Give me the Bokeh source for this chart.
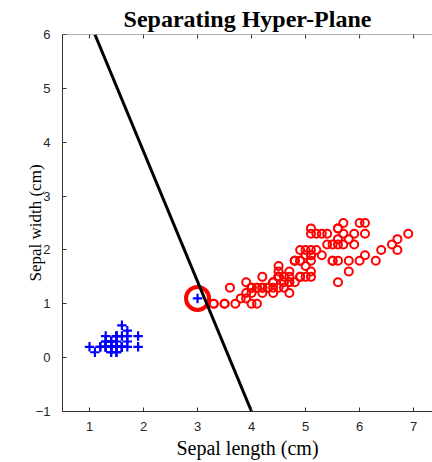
import math
from bokeh.plotting import figure
from bokeh.models import FixedTicker, Range1d, Span
from bokeh.embed import file_html
from bokeh.resources import INLINE

# Class 1 (blue +): petal length / width
setosa_len = [1.4, 1.4, 1.3, 1.5, 1.4, 1.7, 1.4, 1.5, 1.4, 1.5, 1.5, 1.6, 1.4, 1.1, 1.2,
              1.5, 1.3, 1.4, 1.7, 1.5, 1.7, 1.5, 1.0, 1.7, 1.9, 1.6, 1.6, 1.5, 1.4, 1.6,
              1.6, 1.5, 1.5, 1.4, 1.5, 1.2, 1.3, 1.4, 1.3, 1.5, 1.3, 1.3, 1.3, 1.6, 1.9,
              1.4, 1.6, 1.4, 1.5, 1.4]
setosa_wid = [0.2, 0.2, 0.2, 0.2, 0.2, 0.4, 0.3, 0.2, 0.2, 0.1, 0.2, 0.2, 0.1, 0.1, 0.2,
              0.4, 0.4, 0.3, 0.3, 0.3, 0.2, 0.4, 0.2, 0.5, 0.2, 0.2, 0.4, 0.2, 0.2, 0.2,
              0.2, 0.4, 0.1, 0.2, 0.2, 0.2, 0.2, 0.1, 0.2, 0.2, 0.3, 0.3, 0.2, 0.6, 0.4,
              0.3, 0.2, 0.2, 0.2, 0.2]

# Class 2 (red o): versicolor + virginica petal length / width
other_len = [4.7, 4.5, 4.9, 4.0, 4.6, 4.5, 4.7, 3.3, 4.6, 3.9, 3.5, 4.2, 4.0, 4.7, 3.6,
             4.4, 4.5, 4.1, 4.5, 3.9, 4.8, 4.0, 4.9, 4.7, 4.3, 4.4, 4.8, 5.0, 4.5, 3.5,
             3.8, 3.7, 3.9, 5.1, 4.5, 4.5, 4.7, 4.4, 4.1, 4.0, 4.4, 4.6, 4.0, 3.3, 4.2,
             4.2, 4.2, 4.3, 4.1,
             6.0, 5.1, 5.9, 5.6, 5.8, 6.6, 4.5, 6.3, 5.8, 6.1, 5.1, 5.3, 5.5, 5.0, 5.1,
             5.3, 5.5, 6.7, 6.9, 5.0, 5.7, 4.9, 6.7, 4.9, 5.7, 6.0, 4.8, 4.9, 5.6, 5.8,
             6.1, 6.4, 5.6, 5.1, 5.6, 6.1, 5.6, 5.5, 4.8, 5.4, 5.6, 5.1, 5.1, 5.9, 5.7,
             5.2, 5.0, 5.2, 5.4, 5.1]
other_wid = [1.4, 1.5, 1.5, 1.3, 1.5, 1.3, 1.6, 1.0, 1.3, 1.4, 1.0, 1.5, 1.0, 1.4, 1.3,
             1.4, 1.5, 1.0, 1.5, 1.1, 1.8, 1.3, 1.5, 1.2, 1.3, 1.4, 1.4, 1.7, 1.5, 1.0,
             1.1, 1.0, 1.2, 1.6, 1.5, 1.6, 1.5, 1.3, 1.3, 1.3, 1.2, 1.4, 1.2, 1.0, 1.3,
             1.2, 1.3, 1.3, 1.3,
             2.5, 1.9, 2.1, 1.8, 2.2, 2.1, 1.7, 1.8, 1.8, 2.5, 2.0, 1.9, 2.1, 2.0, 2.4,
             2.3, 1.8, 2.2, 2.3, 1.5, 2.3, 2.0, 2.0, 1.8, 2.1, 1.8, 1.8, 1.8, 2.1, 1.6,
             1.9, 2.0, 2.2, 1.5, 1.4, 2.3, 2.4, 1.8, 1.8, 2.1, 2.4, 2.3, 1.9, 2.3, 2.5,
             2.3, 1.9, 2.0, 2.3, 1.8]

# Highlighted support vector
sv_len = [3.0]
sv_wid = [1.1]

# Separating hyper-plane end points
plane_x = [1.1, 4.0]
plane_y = [6.0, -1.0]

x_ticks = [1, 2, 3, 4, 5, 6, 7]
y_ticks = [-1, 0, 1, 2, 3, 4, 5, 6]

axis_col = "#333333"
y_top = y_ticks[-1]

p = figure(width=432, height=462, output_backend="svg", toolbar_location=None,
           x_range=Range1d(0.5, 7.35), y_range=Range1d(y_ticks[0], y_top),
           min_border_left=62, min_border_right=0, min_border_top=34, min_border_bottom=51,
           x_axis_label="Sepal length (cm)", y_axis_label="Sepal width (cm)")
p.outline_line_color = None
p.xgrid.visible = False
p.ygrid.visible = False

p.title.text = "Separating Hyper-Plane"
p.title.text_font = "Liberation Serif"
p.title.text_font_size = "24px"
p.title.text_font_style = "bold"
p.title.text_color = "black"
p.title.align = "center"
p.title.offset = 4
p.title.standoff = 5

for ax in (p.xaxis[0], p.yaxis[0]):
    ax.major_tick_in = 4
    ax.major_tick_out = 0
    ax.minor_tick_line_color = None
    ax.axis_line_color = axis_col
    ax.major_tick_line_color = axis_col
    ax.major_label_text_font = "Liberation Sans"
    ax.major_label_text_font_size = "13px"
    ax.major_label_text_color = "#262626"
    ax.axis_label_text_font = "Liberation Serif"
    ax.axis_label_text_font_style = "normal"
    ax.axis_label_text_color = "black"

p.xaxis.ticker = FixedTicker(ticks=x_ticks)
p.yaxis.ticker = FixedTicker(ticks=y_ticks)
p.xaxis.axis_label_text_font_size = "20px"
p.yaxis.axis_label_text_font_size = "17px"
p.xaxis.major_label_standoff = 10
p.xaxis.axis_label_standoff = 3
p.yaxis.major_label_standoff = 12
p.yaxis.axis_label_standoff = -12

# top box edge with inward ticks
p.add_layout(Span(location=y_top, dimension="width", line_color="#666666", line_width=1))
p.scatter(x_ticks, [y_top] * len(x_ticks), marker="dash", angle=math.pi / 2, size=8,
          line_color=axis_col, line_width=1)

p.scatter(other_len, other_wid, marker="circle", size=8, fill_color=None,
          line_color="#ff0000", line_width=2)
p.scatter(setosa_len, setosa_wid, marker="cross", size=9.5, line_color="#0000ff", line_width=2.2)
p.scatter(sv_len, sv_wid, marker="cross", size=9.5, line_color="#0000ff", line_width=2.2)
p.scatter(sv_len, sv_wid, marker="circle", size=23, fill_color=None,
          line_color="#ff0000", line_width=4)
p.line(plane_x, plane_y, line_color="black", line_width=3)

open("out.html", "w").write(file_html(p, INLINE))
